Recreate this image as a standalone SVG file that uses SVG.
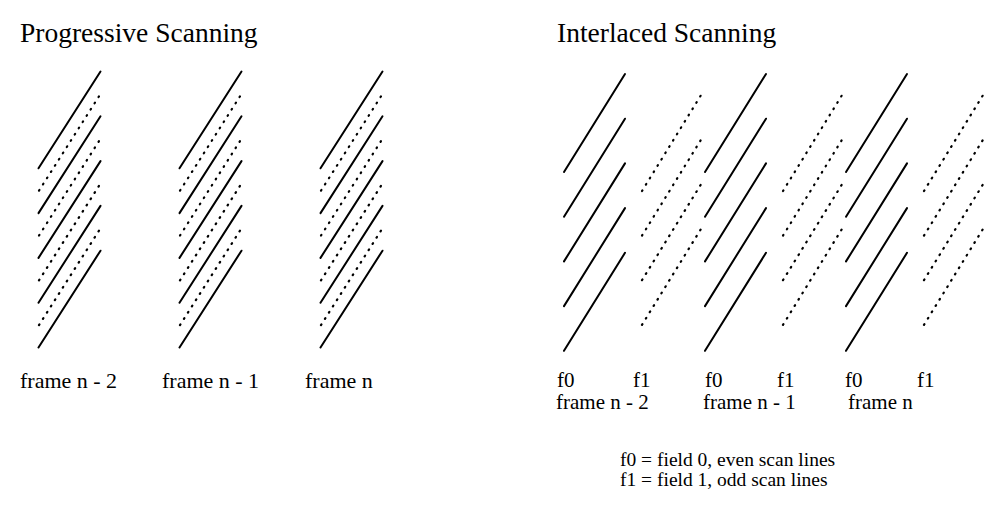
<svg xmlns="http://www.w3.org/2000/svg" xmlns:xlink="http://www.w3.org/1999/xlink" width="984" height="506" viewBox="0 0 984 506">
  <style>
    text { font-family: "Liberation Serif", "Times New Roman", serif; fill: #000; }
    .title { font-size: 27.5px; }
    .label { font-size: 22px; }
    .flabel { font-size: 21px; }
    .legend { font-size: 19.5px; }
    .solid { stroke: #000; stroke-width: 2; fill: none; stroke-linecap: round; }
    .dotted { stroke: #000; stroke-width: 2.2; fill: none; stroke-linecap: round; stroke-dasharray: 0.8 6.6; }
  </style>
  <defs>
    <!-- one progressive frame: all scan lines, solid and dotted interleaved -->
    <g id="prog-lines">
      <line class="solid" x1="38.5" y1="168.3" x2="100.5" y2="71.5"/>
      <line class="solid" x1="38.5" y1="213.1" x2="100.5" y2="116.3"/>
      <line class="solid" x1="38.5" y1="257.9" x2="100.5" y2="161.1"/>
      <line class="solid" x1="38.5" y1="302.7" x2="100.5" y2="205.9"/>
      <line class="solid" x1="38.5" y1="347.5" x2="100.5" y2="250.7"/>
      <line class="dotted" x1="39" y1="190.7" x2="100.5" y2="93.9"/>
      <line class="dotted" x1="39" y1="235.5" x2="100.5" y2="138.7"/>
      <line class="dotted" x1="39" y1="280.3" x2="100.5" y2="183.5"/>
      <line class="dotted" x1="39" y1="325.1" x2="100.5" y2="228.3"/>
    </g>
    <!-- field 0: even scan lines -->
    <g id="field0-lines">
      <line class="solid" x1="564" y1="172" x2="625" y2="74"/>
      <line class="solid" x1="564" y1="216.7" x2="625" y2="118.7"/>
      <line class="solid" x1="564" y1="261.4" x2="625" y2="163.4"/>
      <line class="solid" x1="564" y1="306.1" x2="625" y2="208.1"/>
      <line class="solid" x1="564" y1="350.8" x2="625" y2="252.8"/>
    </g>
    <!-- field 1: odd scan lines -->
    <g id="field1-lines">
      <line class="dotted" x1="642" y1="191" x2="702" y2="93.5"/>
      <line class="dotted" x1="642" y1="235.6" x2="702" y2="138.1"/>
      <line class="dotted" x1="642" y1="280.2" x2="702" y2="182.7"/>
      <line class="dotted" x1="642" y1="324.8" x2="702" y2="227.3"/>
    </g>
  </defs>

  <text class="title" x="20" y="42">Progressive Scanning</text>
  <text class="title" x="557" y="42">Interlaced Scanning</text>

  <!-- progressive frames -->
  <g id="prog-frame-n2">
    <use xlink:href="#prog-lines"/>
    <text class="label" x="20" y="388">frame n - 2</text>
  </g>
  <g id="prog-frame-n1">
    <use xlink:href="#prog-lines" transform="translate(141,0)"/>
    <text class="label" x="162" y="388">frame n - 1</text>
  </g>
  <g id="prog-frame-n">
    <use xlink:href="#prog-lines" transform="translate(282,0)"/>
    <text class="label" x="305" y="388">frame n</text>
  </g>

  <!-- interlaced frames, each split into two fields -->
  <g id="int-frame-n2">
    <g id="int-n2-f0">
      <use xlink:href="#field0-lines"/>
      <text class="flabel" x="557" y="387">f0</text>
    </g>
    <g id="int-n2-f1">
      <use xlink:href="#field1-lines"/>
      <text class="flabel" x="633" y="387">f1</text>
    </g>
    <text class="flabel" x="556" y="409">frame n - 2</text>
  </g>
  <g id="int-frame-n1">
    <g id="int-n1-f0">
      <use xlink:href="#field0-lines" transform="translate(141,0)"/>
      <text class="flabel" x="705" y="387">f0</text>
    </g>
    <g id="int-n1-f1">
      <use xlink:href="#field1-lines" transform="translate(141,0)"/>
      <text class="flabel" x="777" y="387">f1</text>
    </g>
    <text class="flabel" x="703" y="409">frame n - 1</text>
  </g>
  <g id="int-frame-n">
    <g id="int-n-f0">
      <use xlink:href="#field0-lines" transform="translate(282,0)"/>
      <text class="flabel" x="845" y="387">f0</text>
    </g>
    <g id="int-n-f1">
      <use xlink:href="#field1-lines" transform="translate(282,0)"/>
      <text class="flabel" x="917" y="387">f1</text>
    </g>
    <text class="flabel" x="848" y="409">frame n</text>
  </g>

  <g id="legend">
    <text class="legend" x="620" y="466">f0 = field 0, even scan lines</text>
    <text class="legend" x="620" y="486">f1 = field 1, odd scan lines</text>
  </g>

  <!-- no connectors in this figure -->
  <g id="connectors"/>
</svg>
